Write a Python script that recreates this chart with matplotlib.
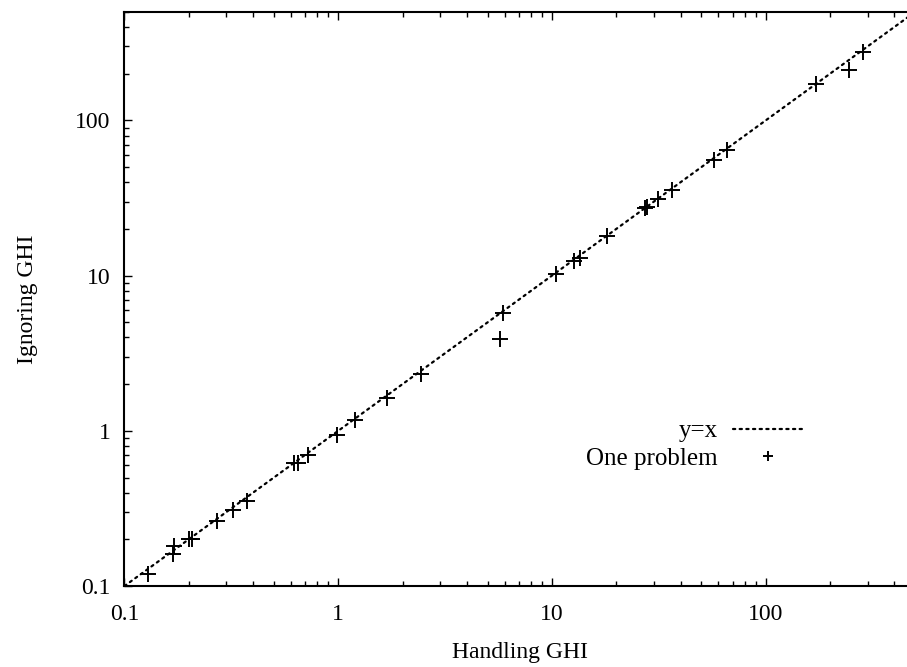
import matplotlib
matplotlib.use("Agg")
import matplotlib.pyplot as plt
from matplotlib.ticker import LogLocator, FuncFormatter, NullFormatter

# 数据：横轴 Handling GHI，纵轴 Ignoring GHI
handling = [0.129, 0.169, 0.170, 0.200, 0.208, 0.271, 0.322, 0.375,
            0.62, 0.65, 0.72, 0.986, 1.20, 1.69, 2.44, 5.7, 5.9,
            10.4, 12.7, 13.5, 18.1, 27.2, 27.8, 31.3, 36.4, 57.2, 65.8,
            173, 245, 285]
ignoring = [0.119, 0.161, 0.181, 0.200, 0.200, 0.262, 0.308, 0.352,
            0.62, 0.62, 0.70, 0.94, 1.17, 1.62, 2.32, 3.89, 5.73,
            10.2, 12.4, 12.9, 17.9, 27.2, 27.6, 31.0, 35.5, 55.4, 64.2,
            171, 213, 275]
diag = [0.1, 500]

W, H = 907, 667
plt.rcParams['font.family'] = ['Liberation Serif', 'DejaVu Serif']
plt.rcParams['font.size'] = 17

fig = plt.figure(figsize=(W / 100, H / 100), dpi=100)
ax = fig.add_axes([124.5 / W, 1 - 586 / H, (915 - 124.5) / W, (586 - 12) / H])

ax.plot(diag, diag, color='black', linestyle=(0, (1, 2)), linewidth=1.6,
        dash_capstyle='round', label='y=x')
ax.plot(handling, ignoring, linestyle='none', marker='+', markersize=11,
        markeredgewidth=1.4, color='black', label='One problem')

ax.set_xscale('log')
ax.set_yscale('log')
ax.set_xlim(0.1, 500)
ax.set_ylim(0.1, 500)

fmt = FuncFormatter(lambda v, p: '%g' % v)
for axis in (ax.xaxis, ax.yaxis):
    axis.set_major_locator(LogLocator(base=10, numticks=10))
    axis.set_minor_locator(LogLocator(base=10, subs=range(2, 10), numticks=10))
    axis.set_major_formatter(fmt)
    axis.set_minor_formatter(NullFormatter())

ax.tick_params(which='both', direction='in', top=True, right=True, width=1.0)
ax.tick_params(which='major', length=6)
ax.tick_params(which='minor', length=3.5)
ax.tick_params(axis='x', which='major', pad=13)
ax.tick_params(axis='y', which='major', pad=10)
for s in ax.spines.values():
    s.set_linewidth(1.5)

ax.set_xlabel('Handling GHI', labelpad=12)
ax.set_ylabel('Ignoring GHI', labelpad=27)

ax.legend(loc='upper right', bbox_to_anchor=(803 / W, 1 - 420 / H),
          bbox_transform=fig.transFigure, frameon=False, markerfirst=False,
          borderpad=0, borderaxespad=0, handlelength=2.8, handletextpad=0.6,
          labelspacing=0.2, markerscale=0.6, fontsize=18)

fig.savefig('out.png', dpi=100)
